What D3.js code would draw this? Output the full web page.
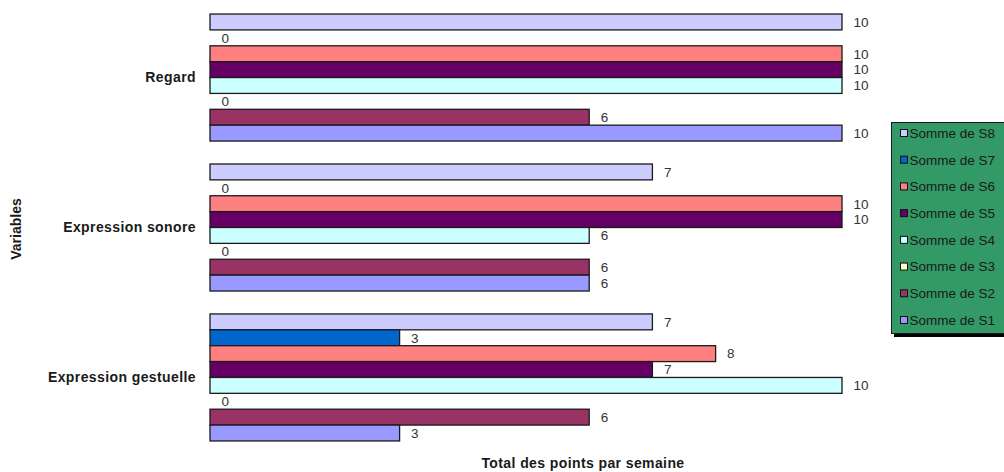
<!DOCTYPE html>
<html>
<head>
<meta charset="utf-8">
<script src="https://cdn.jsdelivr.net/npm/d3@7"></script>
<style>
  html, body { margin: 0; padding: 0; background: #fff; }
  svg { display: block; }
  text { font-family: "Liberation Sans", Arial, sans-serif; }
</style>
</head>
<body>
<svg id="chart" width="1004" height="472"></svg>
<script>
const categories = ["Regard", "Expression sonore", "Expression gestuelle"];
const seriesNames = ["S8", "S7", "S6", "S5", "S4", "S3", "S2", "S1"];
const seriesLabels = ["Somme de S8", "Somme de S7", "Somme de S6", "Somme de S5", "Somme de S4", "Somme de S3", "Somme de S2", "Somme de S1"];
const seriesColors = ["#CCCCFF", "#0066CC", "#FF8080", "#660066", "#CCFFFF", "#FFFFCC", "#993366", "#9999FF"];
const S8 = [10, 7, 7];
const S7 = [0, 0, 3];
const S6 = [10, 10, 8];
const S5 = [10, 10, 7];
const S4 = [10, 6, 10];
const S3 = [0, 0, 0];
const S2 = [6, 6, 6];
const S1 = [10, 6, 3];
const seriesValues = [S8, S7, S6, S5, S4, S3, S2, S1];
const xDomain = [0, 10];
const xTitle = "Total des points par semaine";
const yTitle = "Variables";

const svg = d3.select("#chart");

const x = d3.scaleLinear().domain(xDomain).range([210, 842]);
const y0 = d3.scaleBand().domain(categories).range([2.5, 452.5]).paddingInner(0.153).paddingOuter(0.077);
const y1 = d3.scaleBand().domain(seriesNames).range([0, y0.bandwidth()]);

const rows = [];
categories.forEach((c, ci) => {
  seriesNames.forEach((s, si) => {
    rows.push({cat: c, series: s, color: seriesColors[si], value: seriesValues[si][ci]});
  });
});

const g = svg.append("g");
g.selectAll("rect.bar")
  .data(rows.filter(d => d.value > 0))
  .join("rect")
  .attr("class", "bar")
  .attr("x", x(0))
  .attr("y", d => y0(d.cat) + y1(d.series))
  .attr("width", d => x(d.value) - x(0))
  .attr("height", y1.bandwidth())
  .attr("fill", d => d.color)
  .attr("stroke", "#1a1a1a")
  .attr("stroke-width", 1.3);

g.selectAll("text.val")
  .data(rows)
  .join("text")
  .attr("class", "val")
  .attr("x", d => x(d.value) + 11.5)
  .attr("y", d => y0(d.cat) + y1(d.series) + y1.bandwidth() / 2)
  .attr("dy", "0.36em")
  .attr("font-size", "13.5px")
  .attr("fill", "#333")
  .text(d => d.value);

// category axis labels
const yAxis = d3.axisLeft(y0).tickSize(0).tickPadding(14);
const ya = svg.append("g").attr("transform", `translate(${x(0)},0)`).call(yAxis);
ya.select(".domain").remove();
ya.selectAll("text")
  .attr("font-family", "Liberation Sans, Arial, sans-serif")
  .attr("font-size", "14px")
  .attr("font-weight", "bold")
  .attr("letter-spacing", "0.4px")
  .attr("fill", "#1a1a1a");

// axis titles
svg.append("text")
  .attr("x", 583).attr("y", 468)
  .attr("text-anchor", "middle")
  .attr("font-size", "14px").attr("font-weight", "bold")
  .attr("letter-spacing", "0.4px")
  .attr("fill", "#1a1a1a")
  .text(xTitle);

svg.append("text")
  .attr("transform", "translate(21,229) rotate(-90)")
  .attr("text-anchor", "middle")
  .attr("font-size", "14px").attr("font-weight", "bold")
  .attr("fill", "#1a1a1a")
  .text(yTitle);

// legend
const lg = svg.append("g");
lg.append("rect").attr("x", 894).attr("y", 125).attr("width", 120).attr("height", 212).attr("fill", "#000");
lg.append("rect").attr("x", 891.5).attr("y", 122.5).attr("width", 120).attr("height", 211)
  .attr("fill", "#339966").attr("stroke", "#1a1a1a").attr("stroke-width", 1);
const ly = d3.scalePoint().domain(seriesNames).range([133, 320]);
const items = lg.selectAll("g.item").data(seriesNames.map((s, i) => ({s, label: seriesLabels[i], color: seriesColors[i]})))
  .join("g").attr("class", "item")
  .attr("transform", d => `translate(0,${ly(d.s)})`);
items.append("rect").attr("x", 900.5).attr("y", -3.5).attr("width", 7).attr("height", 7)
  .attr("fill", d => d.color).attr("stroke", "#111").attr("stroke-width", 1);
items.append("text").attr("x", 909.5).attr("y", 0).attr("dy", "0.36em")
  .attr("font-size", "13.5px").attr("fill", "#1a1a1a")
  .text(d => d.label);
</script>
</body>
</html>
